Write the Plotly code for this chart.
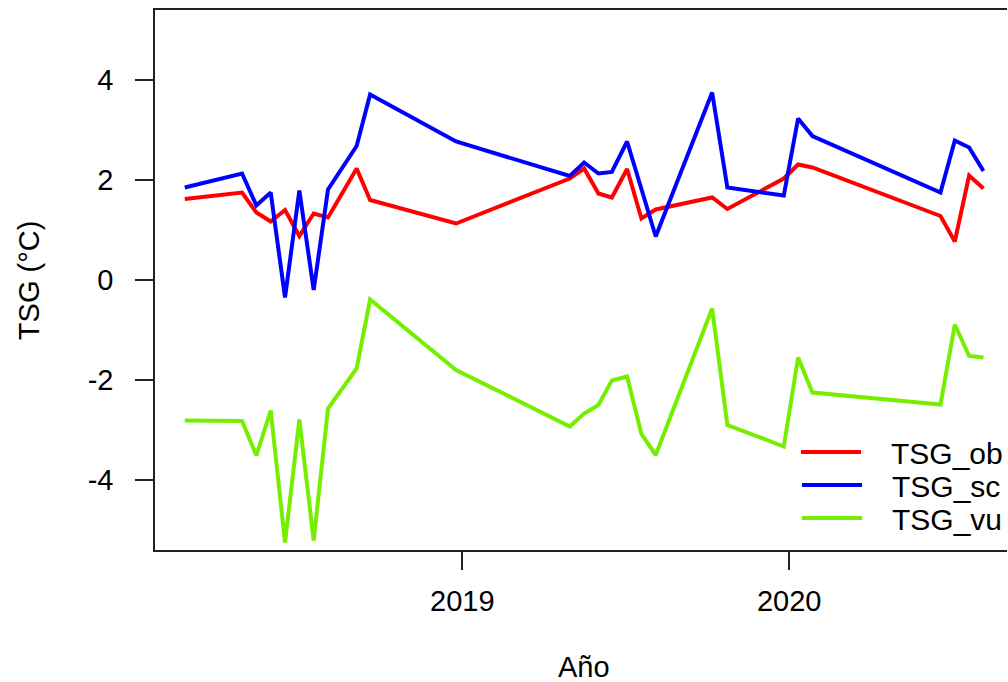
import plotly.graph_objects as go

# Sampling dates (roughly 16-day revisit) and the three TSG series
fechas = [
    "2018-02-25", "2018-04-30", "2018-05-16", "2018-06-01", "2018-06-17",
    "2018-07-03", "2018-07-19", "2018-08-04", "2018-09-05", "2018-09-20",
    "2018-12-25", "2019-05-01", "2019-05-17", "2019-06-02", "2019-06-17",
    "2019-07-04", "2019-07-20", "2019-08-05", "2019-10-07", "2019-10-24",
    "2019-12-26", "2020-01-11", "2020-01-27", "2020-06-18", "2020-07-04",
    "2020-07-20", "2020-08-05",
]
tsg_ob = [1.62, 1.75, 1.35, 1.17, 1.40, 0.88, 1.33, 1.25, 2.23, 1.60,
          1.13, 2.03, 2.23, 1.73, 1.65, 2.22, 1.23, 1.41, 1.65, 1.42,
          2.03, 2.31, 2.25, 1.28, 0.77, 2.09, 1.83]
tsg_sc = [1.85, 2.13, 1.49, 1.75, -0.35, 1.79, -0.20, 1.81, 2.68, 3.71,
          2.77, 2.08, 2.35, 2.13, 2.16, 2.77, None, 0.87, 3.75, 1.85,
          1.69, 3.23, 2.88, 1.75, 2.79, 2.65, 2.18]
tsg_vu = [-2.81, -2.82, -3.51, -2.61, -5.25, -2.79, -5.21, -2.57, -1.77, -0.39,
          -1.80, -2.93, -2.67, -2.50, -2.01, -1.93, -3.08, -3.50, -0.57, -2.90,
          -3.33, -1.55, -2.25, -2.49, -0.89, -1.52, -1.55]

series = [("TSG_ob", tsg_ob, "#FF0000"),
          ("TSG_sc", tsg_sc, "#0000FF"),
          ("TSG_vu", tsg_vu, "#76EE00")]

x_ticks = ["2019-01-01", "2020-01-01"]
x_labels = ["2019", "2020"]
y_ticks = [-4, -2, 0, 2, 4]

FONT = "Liberation Sans, Arial, Helvetica, sans-serif"

# plot area in pixels
L, R, T, B = 155, 1008, 10, 550
W, H = R - L, B - T

def px_x(p):
    return (p - L) / W

def px_y(p):
    return (B - p) / H

# one legend box per series, stacked like base-R legend rows
legend_rows = [452, 485, 518]
legend_names = ["legend", "legend2", "legend3"]

fig = go.Figure()
for (nombre, valores, color), lg in zip(series, legend_names):
    fig.add_trace(go.Scatter(
        x=fechas, y=valores, name="\u00a0\u00a0\u00a0" + nombre, mode="lines",
        line=dict(color=color, width=4),
        connectgaps=True, legend=lg,
    ))

legend_common = dict(
    x=px_x(797), xanchor="left", yanchor="middle",
    bgcolor="rgba(0,0,0,0)", borderwidth=0,
    font=dict(size=30, color="black"),
    itemwidth=60,
)

fig.update_layout(
    width=1008, height=682,
    margin=dict(l=L, r=0, t=T, b=682 - B),
    paper_bgcolor="white", plot_bgcolor="white",
    font=dict(family=FONT, size=29, color="black"),
    showlegend=True,
    legend=dict(y=px_y(legend_rows[0]), **legend_common),
    legend2=dict(y=px_y(legend_rows[1]), **legend_common),
    legend3=dict(y=px_y(legend_rows[2]), **legend_common),
    xaxis=dict(
        type="date",
        range=["2018-01-22 19:00", "2020-08-31 07:00"],
        tickvals=x_ticks, ticktext=x_labels,
        showgrid=False, zeroline=False,
        showline=True, linecolor="#222", linewidth=1.5, mirror=True,
        ticks="outside", ticklen=18, tickwidth=1.5, tickcolor="#222",
        ticklabelstandoff=6,
        tickfont=dict(size=29),
    ),
    yaxis=dict(
        range=[-5.4, 5.4],
        tickvals=y_ticks, ticktext=[str(v) for v in y_ticks],
        showgrid=False, zeroline=False,
        showline=True, linecolor="#222", linewidth=1.5, mirror=False,
        ticks="outside", ticklen=18, tickwidth=1.5, tickcolor="#222",
        ticklabelstandoff=16,
        tickfont=dict(size=29),
    ),
    annotations=[
        dict(text="Año", xref="paper", yref="paper",
             x=px_x(585), y=px_y(667),
             xanchor="center", yanchor="middle", showarrow=False,
             font=dict(size=29)),
        dict(text="TSG (°C)", xref="paper", yref="paper",
             x=px_x(29), y=0.5, textangle=-90,
             xanchor="center", yanchor="middle", showarrow=False,
             font=dict(size=29)),
    ],
)

fig.write_html("out.html")
